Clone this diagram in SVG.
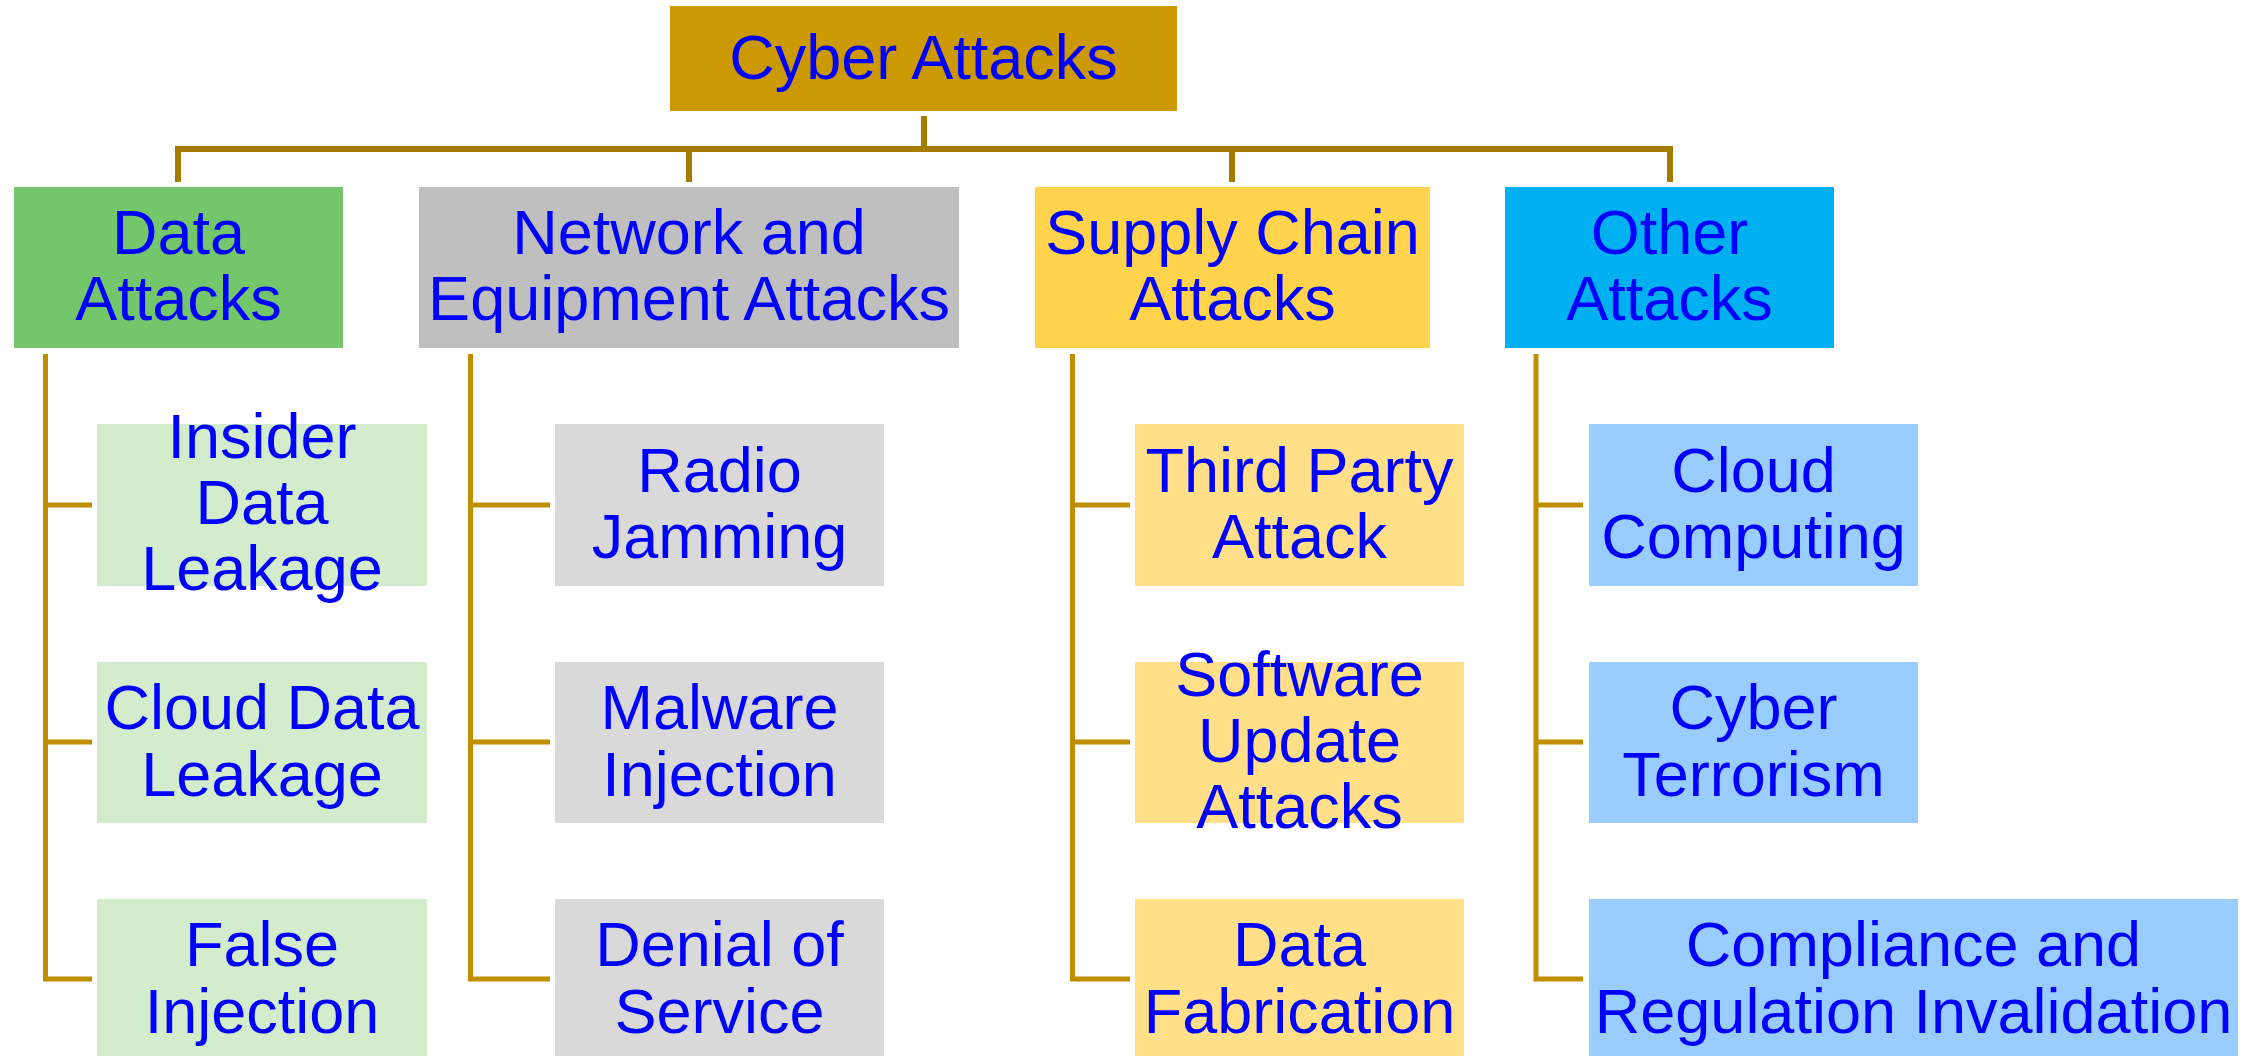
<svg xmlns="http://www.w3.org/2000/svg" width="2256" height="1056" viewBox="0 0 2256 1056">
<style>
text{font-family:"Liberation Sans",Arial,sans-serif;font-size:63px;fill:#0000FF;text-anchor:middle}
.bus{fill:none;stroke:#A67C00;stroke-width:6}
.col{fill:none;stroke:#BF8F00;stroke-width:5}
.root{fill:#CC9900}
.g1{fill:#73C66A}.g2{fill:#D2ECCC}
.n1{fill:#BFBFBF}.n2{fill:#D9D9D9}
.s1{fill:#FFD34B}.s2{fill:#FFDF88}
.o1{fill:#00B0F0}.o2{fill:#99CCFF}
</style>
<rect width="2256" height="1056" fill="#FFFFFF"/>
<g id="connectors">
<path class="bus" d="M924,116 V149 M178,182 V149 H1670 V182 M689,149 V182 M1232,149 V182"/>
<path class="col" d="M45.5,354 V979 H92 M45.5,505 H92 M45.5,742 H92"/>
<path class="col" d="M470.5,354 V979 H550 M470.5,505 H550 M470.5,742 H550"/>
<path class="col" d="M1072.5,354 V979 H1130 M1072.5,505 H1130 M1072.5,742 H1130"/>
<path class="col" d="M1536,354 V979 H1583 M1536,505 H1583 M1536,742 H1583"/>
</g>
<g id="root"><rect class="root" x="670" y="6" width="507" height="105"/><text x="923.5" y="79">Cyber Attacks</text></g>
<g id="data-attacks"><rect class="g1" x="14" y="187" width="329" height="161"/><text x="178.5" y="254">Data</text><text x="178.5" y="320">Attacks</text></g>
<g id="network-attacks"><rect class="n1" x="419" y="187" width="540" height="161"/><text x="689" y="254">Network and</text><text x="689" y="320">Equipment Attacks</text></g>
<g id="supply-attacks"><rect class="s1" x="1035" y="187" width="395" height="161"/><text x="1232.5" y="254">Supply Chain</text><text x="1232.5" y="320">Attacks</text></g>
<g id="other-attacks"><rect class="o1" x="1505" y="187" width="329" height="161"/><text x="1669.5" y="254">Other</text><text x="1669.5" y="320">Attacks</text></g>

<g id="insider"><rect class="g2" x="97" y="424" width="330" height="162"/><text x="262" y="458">Insider</text><text x="262" y="524">Data</text><text x="262" y="590">Leakage</text></g>
<g id="cloud-data"><rect class="g2" x="97" y="662" width="330" height="161"/><text x="262" y="729">Cloud Data</text><text x="262" y="796">Leakage</text></g>
<g id="false-injection"><rect class="g2" x="97" y="899" width="330" height="162"/><text x="262" y="966">False</text><text x="262" y="1033">Injection</text></g>

<g id="radio"><rect class="n2" x="555" y="424" width="329" height="162"/><text x="719.5" y="491.5">Radio</text><text x="719.5" y="558">Jamming</text></g>
<g id="malware"><rect class="n2" x="555" y="662" width="329" height="161"/><text x="719.5" y="729">Malware</text><text x="719.5" y="796">Injection</text></g>
<g id="dos"><rect class="n2" x="555" y="899" width="329" height="162"/><text x="719.5" y="966">Denial of</text><text x="719.5" y="1033">Service</text></g>

<g id="third-party"><rect class="s2" x="1135" y="424" width="329" height="162"/><text x="1299.5" y="491.5">Third Party</text><text x="1299.5" y="558">Attack</text></g>
<g id="software-update"><rect class="s2" x="1135" y="662" width="329" height="161"/><text x="1299.5" y="695.5">Software</text><text x="1299.5" y="761.5">Update</text><text x="1299.5" y="827.5">Attacks</text></g>
<g id="data-fabrication"><rect class="s2" x="1135" y="899" width="329" height="162"/><text x="1299.5" y="966">Data</text><text x="1299.5" y="1033">Fabrication</text></g>

<g id="cloud-computing"><rect class="o2" x="1589" y="424" width="329" height="162"/><text x="1753.5" y="491.5">Cloud</text><text x="1753.5" y="558">Computing</text></g>
<g id="cyber-terrorism"><rect class="o2" x="1589" y="662" width="329" height="161"/><text x="1753.5" y="729">Cyber</text><text x="1753.5" y="796">Terrorism</text></g>
<g id="compliance"><rect class="o2" x="1589" y="899" width="649" height="162"/><text x="1913.5" y="966">Compliance and</text><text x="1913.5" y="1033">Regulation Invalidation</text></g>
</svg>
